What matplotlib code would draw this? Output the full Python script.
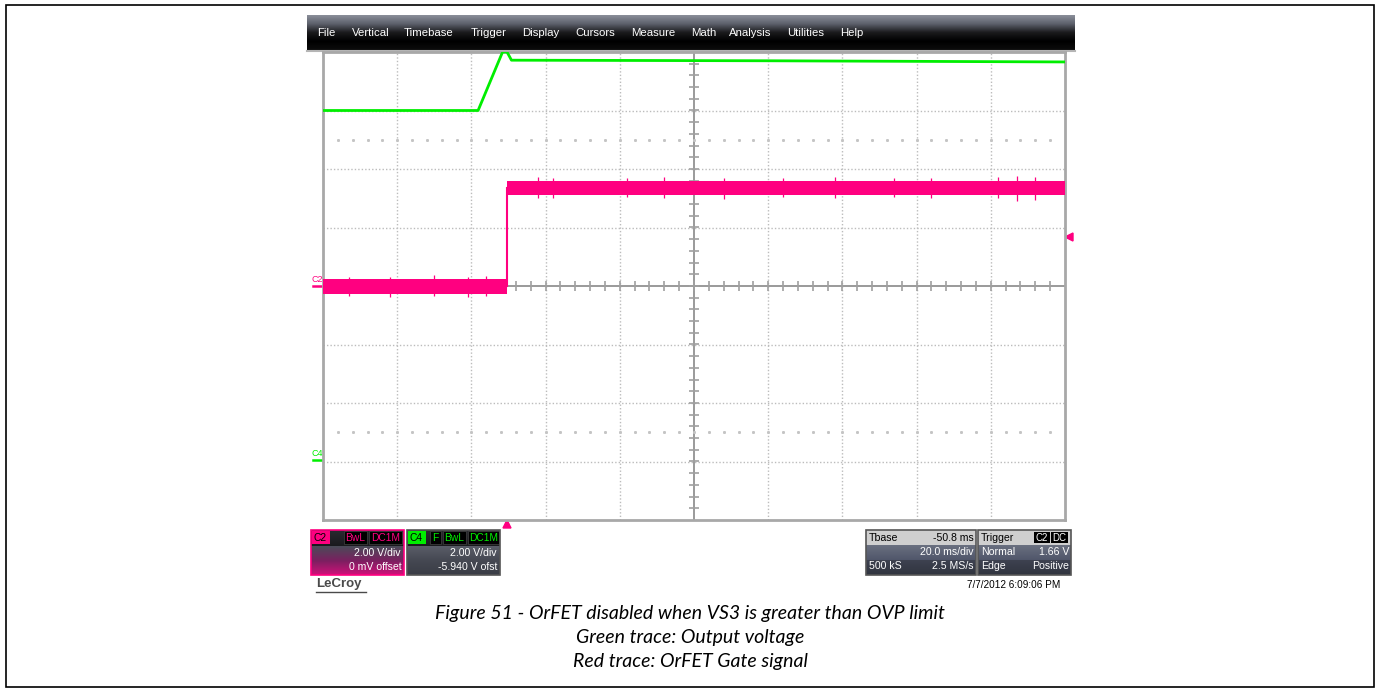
import numpy as np
import matplotlib.pyplot as plt
from matplotlib.patches import Rectangle, Polygon
from matplotlib.colors import to_rgb

# --- trace data (grid divisions: x 0..10, y -4..4, centre = 0) ---
green_x = [0.0, 2.09, 2.42, 2.48, 2.54, 6.0, 10.0]
green_y = [3.00, 3.00, 4.00, 4.00, 3.86, 3.85, 3.83]

red_step_x = 2.48
red_low_x = [0.0, 2.48]
red_low_lo = [-0.13, -0.13]
red_low_hi = [0.12, 0.12]
red_high_x = [2.48, 10.0]
red_high_lo = [1.56, 1.56]
red_high_hi = [1.80, 1.80]
# a few visible noise spikes (x, y_min, y_max)
spike_x = [0.35, 0.9, 1.5, 1.95, 2.2, 2.9, 3.1, 4.1, 4.6, 5.4, 6.2, 6.9, 7.7, 8.2, 9.1, 9.35, 9.6]
spike_lo = [-0.17, -0.19, -0.17, -0.18, -0.17, 1.50, 1.51, 1.52, 1.51, 1.49, 1.52, 1.51, 1.52, 1.51, 1.50, 1.45, 1.47]
spike_hi = [0.16, 0.15, 0.18, 0.15, 0.17, 1.86, 1.84, 1.85, 1.86, 1.84, 1.85, 1.86, 1.84, 1.85, 1.86, 1.88, 1.86]

trig_level = 0.83
trig_pos = 2.48
c4_ground = -2.97

menu_items = ["File", "Vertical", "Timebase", "Trigger", "Display", "Cursors",
              "Measure", "Math", "Analysis", "Utilities", "Help"]
menu_x = [317, 352, 404, 471, 522, 575, 631, 691, 729, 787, 840]

caption = ["Figure 51 - OrFET disabled when VS3 is greater than OVP limit",
           "Green trace: Output voltage",
           "Red trace: OrFET Gate signal"]

MAG = "#ff0080"
GRN = "#00ee00"
W, H = 1380, 690

fig = plt.figure(figsize=(W / 100, H / 100), dpi=100)
bg = fig.add_axes([0, 0, 1, 1])
bg.set_xlim(0, W)
bg.set_ylim(H, 0)
bg.axis("off")


def grad(x0, y0, x1, y1, stops, z=2):
    n = 64
    pos = np.linspace(0, 1, len(stops))
    t = np.linspace(0, 1, n)
    cols = np.array([to_rgb(c) for c in stops])
    arr = np.stack([np.interp(t, pos, cols[:, k]) for k in range(3)], axis=-1)
    bg.imshow(arr[:, None, :], extent=(x0, x1, y1, y0), aspect="auto",
              zorder=z, interpolation="bilinear")


def txt(x, y, s, **kw):
    kw.setdefault("family", "Liberation Sans")
    kw.setdefault("fontsize", 7.6)
    kw.setdefault("va", "center")
    kw.setdefault("zorder", 5)
    bg.text(x, y, s, **kw)


# outer frame
bg.add_patch(Rectangle((6, 5), 1368, 682, fill=False, ec="black", lw=1.2, zorder=1))

# menu bar
grad(307, 15, 1075, 50, ["#8a8e99", "#5c606b", "#1a1a1c", "#000000", "#0c0c0c"])
for s, x in zip(menu_items, menu_x):
    txt(x, 33, s, color="white", fontsize=8.2, ha="left")
bg.plot([307, 1075], [51, 51], color="#b5b5b5", lw=1.5, zorder=3)

# trigger markers
bg.add_patch(Polygon([[503, 528], [511, 528], [507, 520]], closed=True, color=MAG, zorder=4))
bg.add_patch(Polygon([[1065, 237], [1073, 233], [1073, 241]], closed=True, color=MAG, zorder=4))

# channel labels on the left
txt(312, 279, "C2", color=MAG, fontsize=6.5, ha="left")
bg.plot([313, 323], [286, 286], color=MAG, lw=1.8, zorder=4)
txt(312, 454, "C4", color=GRN, fontsize=6.5, ha="left")
bg.plot([313, 323], [460, 460], color=GRN, lw=1.8, zorder=4)

# ---- grid / traces ----
ax = fig.add_axes([323 / W, (H - 520) / H, 742 / W, 468 / H])
ax.set_xlim(0, 10)
ax.set_ylim(-4, 4)
ax.set_xticks([])
ax.set_yticks([])
for sp in ax.spines.values():
    sp.set_color("#a8a8a8")
    sp.set_linewidth(2)
for k in range(1, 10):
    if k != 5:
        ax.axvline(k, color="#bcbcbc", lw=1, ls=(0, (1, 1.5)), zorder=1)
for k in range(-3, 4):
    if k != 0:
        ax.axhline(k, color="#bcbcbc", lw=1, ls=(0, (1, 1.5)), zorder=1)
ax.axvline(5, color="#9a9a9a", lw=1.4, zorder=1)
ax.axhline(0, color="#9a9a9a", lw=1.4, zorder=1)
minor = np.arange(0.2, 10, 0.2)
ax.plot(minor, np.zeros_like(minor), ls="none", marker="|", ms=7, mew=1.2, color="#a0a0a0", zorder=1)
vminor = np.arange(-3.8, 4, 0.2)
ax.plot(np.full_like(vminor, 5), vminor, ls="none", marker="_", ms=7, mew=1.2, color="#a0a0a0", zorder=1)
for yy in (2.5, -2.5):
    ax.plot(minor, np.full_like(minor, yy), ls="none", marker="s", ms=1.1, color="#c4c4c4", zorder=1)

ax.fill_between(red_low_x, red_low_lo, red_low_hi, color=MAG, lw=0, zorder=3)
ax.fill_between(red_high_x, red_high_lo, red_high_hi, color=MAG, lw=0, zorder=3)
ax.plot([red_step_x, red_step_x], [0, 1.68], color=MAG, lw=1.5, zorder=3)
ax.vlines(spike_x, spike_lo, spike_hi, color=MAG, lw=0.9, zorder=3)
ax.plot(green_x, green_y, color=GRN, lw=2.0, zorder=4, clip_on=True)

# ---- bottom info boxes ----
# C2
bg.add_patch(Rectangle((311, 530), 93, 45, fc="none", ec=MAG, lw=1.2, zorder=6))
grad(311, 530, 404, 546, ["#2a2a30", "#1a1a1e"], z=2)
grad(311, 546, 404, 575, ["#4a4c58", "#7a2060", "#d0107a"], z=2)
bg.add_patch(Rectangle((312, 531), 18, 13, fc=MAG, ec="none", zorder=3))
txt(314, 538, "C2", color="black", fontsize=7.4, ha="left")
for x0, w, s in [(344, 23, "BwL"), (369, 33, "DC1M")]:
    bg.add_patch(Rectangle((x0, 531), w, 13, fc="black", ec="#444", lw=0.5, zorder=3))
    txt(x0 + w / 2, 538, s, color=MAG, fontsize=7.4, ha="center")
txt(401, 553, "2.00 V/div", color="white", ha="right")
txt(402, 567, "0 mV offset", color="white", ha="right")

# C4
bg.add_patch(Rectangle((407, 530), 93, 45, fc="none", ec="#555", lw=1.2, zorder=6))
grad(407, 530, 500, 546, ["#2a2a30", "#1a1a1e"], z=2)
grad(407, 546, 500, 575, ["#5a5d68", "#454852", "#3a3d46"], z=2)
bg.add_patch(Rectangle((408, 531), 18, 13, fc=GRN, ec="none", zorder=3))
txt(410, 538, "C4", color="black", fontsize=7.4, ha="left")
for x0, w, s in [(430, 11, "F"), (443, 23, "BwL"), (468, 31, "DC1M")]:
    bg.add_patch(Rectangle((x0, 531), w, 13, fc="black", ec="#444", lw=0.5, zorder=3))
    txt(x0 + w / 2, 538, s, color=GRN, fontsize=7.4, ha="center")
txt(497, 553, "2.00 V/div", color="white", ha="right")
txt(497, 567, "-5.940 V ofst", color="white", ha="right")

# Tbase
bg.add_patch(Rectangle((866, 530), 110, 45, fc="none", ec="#555", lw=1.2, zorder=6))
bg.add_patch(Rectangle((866, 530), 110, 15, fc="#cfcfcf", ec="none", zorder=2))
grad(866, 545, 976, 560, ["#6a7080", "#50566a"], z=2)
grad(866, 560, 976, 575, ["#3e4250", "#30343f"], z=2)
txt(869, 538, "Tbase", color="black", ha="left")
txt(974, 538, "-50.8 ms", color="black", ha="right")
txt(974, 552, "20.0 ms/div", color="white", ha="right")
txt(869, 566, "500 kS", color="white", ha="left")
txt(974, 566, "2.5 MS/s", color="white", ha="right")

# Trigger
bg.add_patch(Rectangle((978, 530), 93, 45, fc="none", ec="#555", lw=1.2, zorder=6))
bg.add_patch(Rectangle((978, 530), 93, 15, fc="#cfcfcf", ec="none", zorder=2))
grad(978, 545, 1071, 560, ["#6a7080", "#50566a"], z=2)
grad(978, 560, 1071, 575, ["#3e4250", "#30343f"], z=2)
txt(981, 538, "Trigger", color="black", ha="left")
for x0, w, s in [(1034, 16, "C2"), (1051, 17, "DC")]:
    bg.add_patch(Rectangle((x0, 532), w, 11, fc="black", ec="none", zorder=3))
    txt(x0 + w / 2, 538, s, color="white", fontsize=7, ha="center")
txt(981, 552, "Normal", color="white", ha="left")
txt(1069, 552, "1.66 V", color="white", ha="right")
txt(981, 566, "Edge", color="white", ha="left")
txt(1069, 566, "Positive", color="white", ha="right")

txt(1060, 585, "7/7/2012 6:09:06 PM", color="black", fontsize=7.2, ha="right")
txt(316, 584, "LeCroy", color="#4a4a4a", fontsize=9.5, weight="bold", ha="left")
bg.plot([316, 366], [592, 592], color="#4a4a4a", lw=1, zorder=5)

# caption
for i, s in enumerate(caption):
    bg.text(690, 614 + 24 * i, s, ha="center", va="center", fontsize=14,
            style="italic", family=["Lato", "Open Sans", "DejaVu Sans"], zorder=5)

fig.savefig("out.png", dpi=100)
